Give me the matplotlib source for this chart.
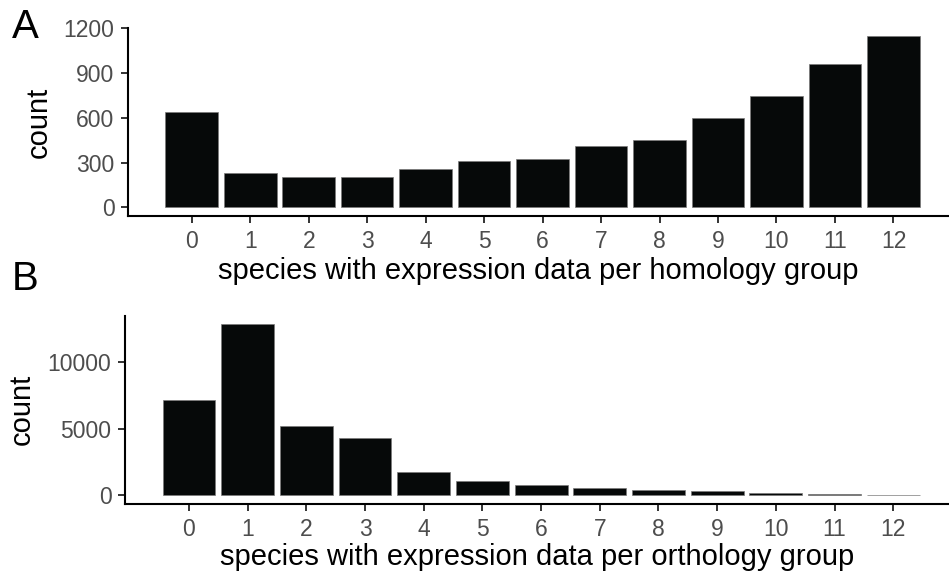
import matplotlib
matplotlib.use("Agg")
import matplotlib.pyplot as plt

plt.rcParams['font.family'] = ['Liberation Sans', 'DejaVu Sans']

# Number of species with expression data per group
species_n = list(range(13))
homology_counts = [639, 232, 201, 201, 255, 308, 326, 409, 453, 599, 746, 963, 1146]
orthology_counts = [7150, 12850, 5225, 4300, 1755, 1070, 770, 595, 410, 315, 215, 125, 55]

homology_yticks = [0, 300, 600, 900, 1200]
orthology_yticks = [0, 5000, 10000]

BAR_FACE = '#060909'
BAR_EDGE = '#7a7a7a'
TICK_COLOR = '#333333'
LABEL_COLOR = '#4D4D4D'

W, H = 949, 577
fig = plt.figure(figsize=(W / 100, H / 100), dpi=100)


def px_axes(left, right, top, bottom):
    return fig.add_axes([left / W, (H - bottom) / H, (right - left) / W, (bottom - top) / H])


def style(ax, values, yticks, xlabel, ylabel_x, xlabel_y):
    ax.bar(species_n, values, width=0.9, color=BAR_FACE, edgecolor=BAR_EDGE, linewidth=0.5)
    top = max(values)
    ax.set_ylim(-0.05 * top, 1.05 * top)
    ax.set_xlim(-1.09, 12.95)
    ax.set_xticks(species_n)
    ax.set_yticks(yticks)
    for side in ('top', 'right'):
        ax.spines[side].set_visible(False)
    for side in ('left', 'bottom'):
        ax.spines[side].set_linewidth(1.5)
        ax.spines[side].set_color('black')
    ax.tick_params(axis='both', length=4.8, width=1.4, color=TICK_COLOR,
                   labelcolor=LABEL_COLOR, labelsize=16.5, pad=5)
    ax.set_xlabel(xlabel, fontsize=21, va='center')
    ax.set_ylabel('count', fontsize=21, va='center')
    ax.xaxis.set_label_coords(0.5, xlabel_y)
    ax.yaxis.set_label_coords(ylabel_x, 0.5)


ax_a = px_axes(128, 949, 27.9, 216)
style(ax_a, homology_counts, homology_yticks,
      'species with expression data per homology group', -0.1084, -0.29)

ax_b = px_axes(125, 949, 315.7, 504)
style(ax_b, orthology_counts, orthology_yticks,
      'species with expression data per orthology group', -0.1254, -0.283)

fig.text(12 / W, 1 - 38 / H, 'A', fontsize=29, ha='left', va='baseline')
fig.text(12 / W, 1 - 290 / H, 'B', fontsize=29, ha='left', va='baseline')

fig.savefig('out.png', dpi=100, facecolor='white')
